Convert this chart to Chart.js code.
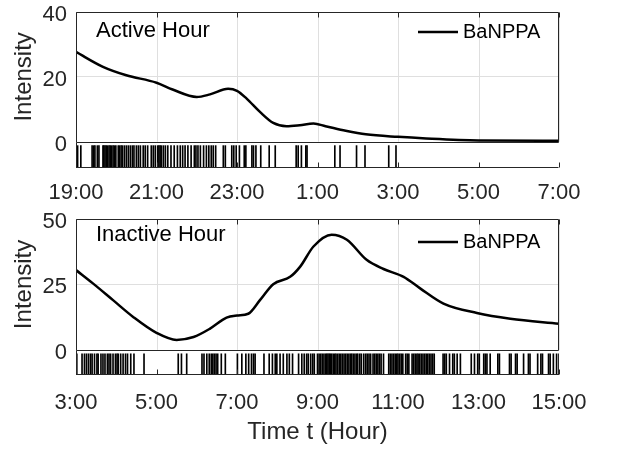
<!DOCTYPE html>
<html>
<head>
<meta charset="utf-8">
<script src="https://cdn.jsdelivr.net/npm/chart.js@4.4.0/dist/chart.umd.min.js"></script>
<style>
    html, body { margin: 0; padding: 0; background: #fff; }
    #wrap { position: relative; width: 639px; height: 449px; }
    .panel { position: absolute; left: 0; }
</style>
</head>
<body>
<div id="wrap">
    <div class="panel" style="top:0"><canvas id="activeChart" width="639" height="205"></canvas></div>
    <div class="panel" style="top:205px"><canvas id="inactiveChart" width="639" height="244"></canvas></div>
</div>
<script>
// Active hour panel (hours after midnight are written as 24+)
const activeTicks = [19, 21, 23, 25, 27, 29, 31];
const activeYTicks = [0, 20, 40];
const activeHours = [19, 19.67, 20.25, 21, 21.4, 22, 22.33, 22.78, 23, 23.24, 23.57, 23.9, 24.23, 24.56, 24.9, 25.2, 25.7, 26.2, 27, 27.7, 29, 31];
const activeIntensity = [27.7, 23.1, 20.5, 18.2, 16.1, 13.8, 14.6, 16.3, 15.7, 13.3, 9.2, 5.8, 4.8, 5.1, 5.6, 4.8, 3.4, 2.3, 1.5, 1.0, 0.4, 0.3];
const activeEvents = [19.0, 19.04, 19.12, 19.40, 19.44, 19.47, 19.53, 19.57, 19.67, 19.69, 19.72, 19.75, 19.78, 19.82, 19.85,
    19.88, 19.92, 19.95, 19.99, 20.05, 20.08, 20.12, 20.15, 20.20, 20.25, 20.30, 20.35, 20.40, 20.44, 20.50, 20.55, 20.60,
    20.67, 20.72, 20.78, 20.87, 20.92, 20.97, 21.03, 21.06, 21.09, 21.12, 21.17, 21.22, 21.28, 21.36, 21.44, 21.52, 21.59,
    21.65, 21.71, 21.78, 21.86, 21.94, 21.98, 22.03, 22.09, 22.17, 22.24, 22.30, 22.36, 22.41, 22.47, 22.66, 22.71, 22.87,
    22.92, 22.98, 23.06, 23.18, 23.22, 23.37, 23.41, 23.47, 23.59, 23.80, 23.95, 24.47, 24.52, 24.60, 24.71, 24.74, 25.43,
    25.56, 25.97, 26.18, 26.77, 26.95];

// Inactive hour panel
const inactiveTicks = [3, 5, 7, 9, 11, 13, 15];
const inactiveYTicks = [0, 25, 50];
const inactiveHours = [3, 3.42, 3.92, 4.42, 5, 5.5, 5.92, 6.33, 6.74, 7, 7.28, 7.57, 7.9, 8.32, 8.57, 8.9, 9.35, 9.73, 10.22, 10.64, 11.14, 11.55, 12.13, 12.96, 13.79, 15];
const inactiveIntensity = [30.5, 25.4, 19.0, 12.6, 6.5, 3.8, 4.9, 8.1, 12.3, 13.1, 13.8, 19.0, 25.1, 27.9, 31.8, 39.5, 44.0, 42.1, 34.4, 30.9, 27.9, 23.5, 17.7, 14.1, 11.9, 10.0];
const inactiveEvents = [3.02, 3.15, 3.21, 3.26, 3.31, 3.36, 3.40, 3.46, 3.52, 3.55, 3.62, 3.67, 3.72, 3.78, 3.82, 3.86, 3.92,
    3.98, 4.02, 4.05, 4.11, 4.17, 4.23, 4.28, 4.36, 4.44, 4.69, 5.54, 5.62, 5.75, 6.13, 6.18, 6.25, 6.31, 6.36, 6.40, 6.44,
    6.48, 6.52, 6.61, 6.71, 7.01, 7.12, 7.22, 7.29, 7.36, 7.41, 7.45, 7.67, 7.80, 7.88, 7.95, 7.99, 8.07, 8.15, 8.24, 8.30,
    8.38, 8.53, 8.61, 8.67, 8.73, 8.77, 8.83, 8.88, 8.92, 9.00, 9.04, 9.08, 9.12, 9.16, 9.20, 9.23, 9.26, 9.29, 9.32, 9.35,
    9.39, 9.43, 9.46, 9.50, 9.54, 9.58, 9.62, 9.66, 9.70, 9.74, 9.78, 9.82, 9.85, 9.89, 9.93, 9.97, 10.00, 10.05, 10.09,
    10.15, 10.20, 10.24, 10.28, 10.32, 10.38, 10.42, 10.46, 10.50, 10.54, 10.58, 10.64, 10.77, 10.81, 10.85, 10.89, 10.93,
    10.97, 11.00, 11.04, 11.08, 11.12, 11.19, 11.23, 11.27, 11.35, 11.39, 11.43, 11.47, 11.50, 11.54, 11.58, 11.62, 11.66,
    11.70, 11.74, 11.78, 11.82, 11.86, 11.90, 12.12, 12.16, 12.20, 12.28, 12.36, 12.40, 12.47, 12.55, 12.82, 12.90, 12.98,
    13.02, 13.13, 13.17, 13.21, 13.29, 13.48, 13.52, 13.77, 13.81, 13.92, 13.96, 14.12, 14.24, 14.28, 14.47, 14.55, 14.59,
    14.74, 14.78, 14.86, 14.94, 15.0];

const FONT = "'Liberation Sans', Arial, Helvetica, sans-serif";
const AXIS = '#262626';
const GRID = '#dfdfdf';

// Frame, grid above zero, note text, legend and y label (MATLAB look)
const panelDecor = {
    id: 'panelDecor',
    beforeDatasetsDraw(chart) {
        const { ctx, chartArea: a, scales: { x, y } } = chart;
        const y0 = y.getPixelForValue(0);
        ctx.save();
        ctx.strokeStyle = GRID;
        ctx.lineWidth = 1;
        x.ticks.forEach(t => {
            const px = Math.round(x.getPixelForValue(t.value)) + 0.5;
            ctx.beginPath();
            ctx.moveTo(px, a.top);
            ctx.lineTo(px, y0);
            ctx.stroke();
        });
        ctx.restore();
    },
    afterDatasetsDraw(chart, args, opts) {
        const { ctx, chartArea: a, scales: { x, y } } = chart;
        const y0 = Math.round(y.getPixelForValue(0)) + 0.5;
        const yTop = y.getPixelForValue(y.max);
        const L = Math.round(a.left) + 0.5;
        const R = Math.round(a.right) - 0.5;
        const T = Math.round(a.top) + 0.5;
        const B = Math.round(a.bottom) - 0.5;
        ctx.save();
        ctx.strokeStyle = AXIS;
        ctx.lineWidth = 1;
        ctx.beginPath();
        ctx.rect(L, T, R - L, y0 - T);
        ctx.moveTo(L, y0);
        ctx.lineTo(L, B);
        ctx.lineTo(R, B);
        x.ticks.forEach(t => {
            const px = Math.round(x.getPixelForValue(t.value)) + 0.5;
            ctx.moveTo(px, T);
            ctx.lineTo(px, T + 5);
            ctx.moveTo(px, B);
            ctx.lineTo(px, B - 5);
        });
        ctx.stroke();

        ctx.fillStyle = '#000';
        ctx.textBaseline = 'middle';
        ctx.textAlign = 'left';
        ctx.font = '22px ' + FONT;
        ctx.fillText(opts.note, a.left + 20, a.top + opts.noteDy);

        // legend
        const ly = a.top + opts.legendDy;
        ctx.lineWidth = 2.5;
        ctx.strokeStyle = '#000';
        ctx.beginPath();
        ctx.moveTo(a.right - 141, ly);
        ctx.lineTo(a.right - 101, ly);
        ctx.stroke();
        ctx.font = '20px ' + FONT;
        ctx.fillText('BaNPPA', a.right - 96, ly);

        // y label centred on the intensity part only
        ctx.fillStyle = AXIS;
        ctx.font = '24px ' + FONT;
        ctx.textAlign = 'center';
        ctx.translate(24, (y.getPixelForValue(0) + yTop) / 2);
        ctx.rotate(-Math.PI / 2);
        ctx.fillText('Intensity', 0, 0);
        ctx.restore();
    }
};

function makePanel(canvasId, hours, intensity, events, xTicks, yTicks, cfg) {
    return new Chart(document.getElementById(canvasId), {
        type: 'line',
        data: {
            datasets: [
                {
                    label: 'BaNPPA',
                    data: hours.map((h, i) => ({ x: h, y: intensity[i] })),
                    borderColor: '#000',
                    borderWidth: 2.5,
                    pointRadius: 0,
                    cubicInterpolationMode: 'monotone',
                    fill: false,
                    order: 0
                },
                {
                    type: 'bar',
                    label: 'events',
                    data: events.map(t => ({ x: t, y: [cfg.rugLow, cfg.rugHigh] })),
                    backgroundColor: '#000',
                    barThickness: 1,
                    grouped: false,
                    order: 1
                }
            ]
        },
        options: {
            responsive: false,
            animation: false,
            layout: { padding: { top: cfg.padTop, right: 80, left: 0, bottom: 0 } },
            plugins: {
                legend: { display: false },
                tooltip: { enabled: false },
                panelDecor: { note: cfg.note, noteDy: cfg.noteDy, legendDy: cfg.legendDy }
            },
            scales: {
                x: {
                    type: 'linear',
                    min: xTicks[0],
                    max: xTicks[xTicks.length - 1],
                    offset: false,
                    afterBuildTicks: s => { s.ticks = xTicks.map(v => ({ value: v })); },
                    afterFit: s => { s.height = cfg.xHeight; },
                    grid: { display: false, offset: false },
                    border: { display: false },
                    ticks: {
                        autoSkip: false,
                        maxRotation: 0,
                        padding: cfg.xPad,
                        color: AXIS,
                        font: { family: FONT, size: 22 },
                        callback: v => (v % 24) + ':00'
                    },
                    title: {
                        display: !!cfg.xTitle,
                        text: cfg.xTitle || '',
                        color: AXIS,
                        font: { family: FONT, size: 24 },
                        padding: { top: 0, bottom: 2 }
                    }
                },
                y: {
                    min: cfg.yMin,
                    max: yTicks[yTicks.length - 1],
                    afterBuildTicks: s => { s.ticks = yTicks.map(v => ({ value: v })); },
                    afterFit: s => {
                        s.width = 76;
                        s.paddingTop = 0;
                        s.paddingBottom = 0;
                    },
                    grid: {
                        drawTicks: false,
                        color: c => (c.tick && c.tick.value === 0) ? 'rgba(0,0,0,0)' : GRID
                    },
                    border: { display: false },
                    ticks: {
                        padding: 9,
                        labelOffset: 3,
                        color: AXIS,
                        font: { family: FONT, size: 22 }
                    }
                }
            }
        },
        plugins: [panelDecor]
    });
}

makePanel('activeChart', activeHours, activeIntensity, activeEvents, activeTicks, activeYTicks, {
    note: 'Active Hour', noteDy: 19, legendDy: 20,
    padTop: 12, xHeight: 37, xPad: 4,
    yMin: -8.1, rugLow: -8.1, rugHigh: -1.2
});

makePanel('inactiveChart', inactiveHours, inactiveIntensity, inactiveEvents, inactiveTicks, inactiveYTicks, {
    note: 'Inactive Hour', noteDy: 16, legendDy: 23,
    padTop: 14, xHeight: 74, xPad: 7, xTitle: 'Time t (Hour)',
    yMin: -9.6, rugLow: -9.6, rugHigh: -1.5
});
</script>
</body>
</html>
